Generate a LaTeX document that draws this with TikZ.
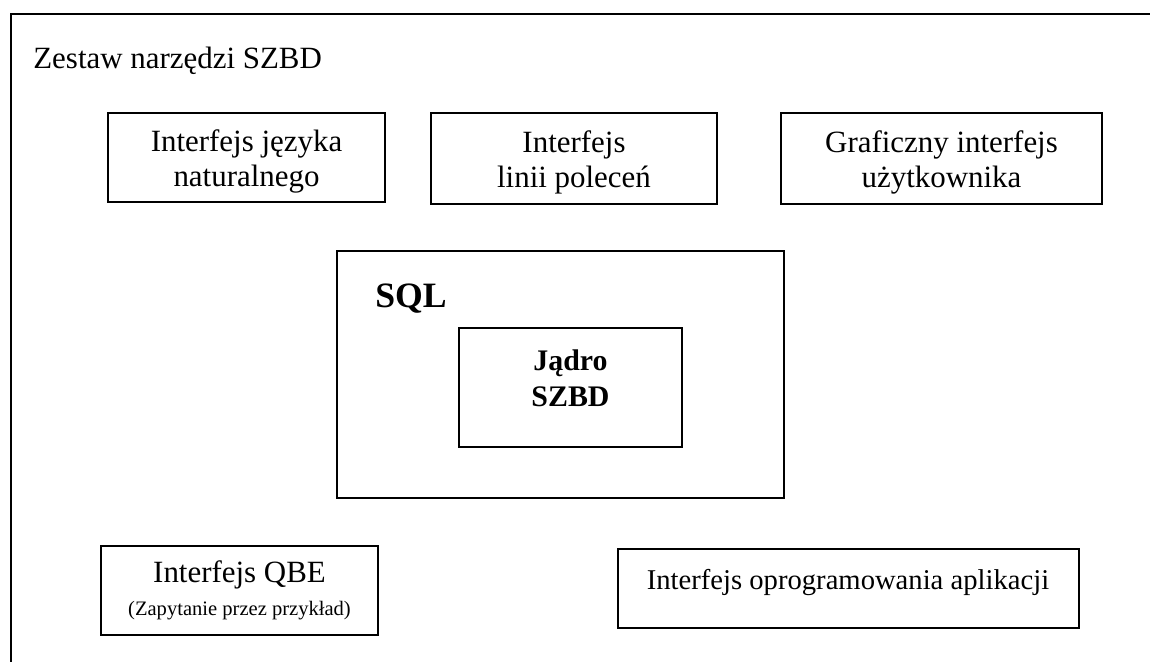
\documentclass[tikz,border=0pt]{standalone}
\usepackage{fontspec}
\setmainfont{Liberation Serif}
\begin{document}
\begin{tikzpicture}[x=0.02cm,y=-0.02cm,
    box/.style={draw,thick,inner sep=0pt,align=center,font=\fontsize{17.6}{20}\selectfont},
    lbl/.style={inner sep=0pt,align=center}]
  \useasboundingbox (0,0) rectangle (1150,662);
  % outer frame (cut off at the right and bottom)
  \draw[line width=1pt] (1150,14) -- (11,14) -- (11,662);
  \node[lbl,anchor=base west,font=\fontsize{17.6}{20}\selectfont] (zestaw) at (33,69) {Zestaw narzędzi SZBD};
  % top row
  \node[box,minimum width=5.54cm,minimum height=1.78cm] (naturalny) at (246.5,157.5) {\rule{0pt}{17pt}Interfejs języka\\naturalnego};
  \node[box,minimum width=5.72cm,minimum height=1.82cm] (polecenia) at (574,158.5) {\rule{0pt}{17pt}Interfejs\\linii poleceń};
  \node[box,minimum width=6.42cm,minimum height=1.82cm] (graficzny) at (941.5,158.5) {\rule{0pt}{17pt}Graficzny interfejs\\użytkownika};
  % SQL and kernel
  \node[box,minimum width=8.94cm,minimum height=4.94cm] (sql) at (560.5,374.5) {};
  \node[lbl,anchor=base west,font=\fontsize{20.3}{24}\selectfont\bfseries] (sqltxt) at (375,308) {SQL};
  \node[box,minimum width=4.46cm,minimum height=2.38cm] (jadro) at (570.5,387.5) {};
  \node[lbl,font=\fontsize{17}{20.4}\selectfont\bfseries] (jadrotxt) at (570.5,378) {Jądro\\SZBD};
  % bottom row
  \node[box,minimum width=5.54cm,minimum height=1.78cm] (qbe) at (239.5,590.5) {Interfejs QBE\\[-1pt]{\fontsize{11.7}{14}\selectfont(Zapytanie przez przykład)}};
  \node[box,minimum width=9.22cm,minimum height=1.58cm] (api) at (848.5,588.5) {};
  \node[lbl,anchor=base,font=\fontsize{16.3}{20}\selectfont] (apitxt) at (848,589) {Interfejs oprogramowania aplikacji};
\end{tikzpicture}
\end{document}
